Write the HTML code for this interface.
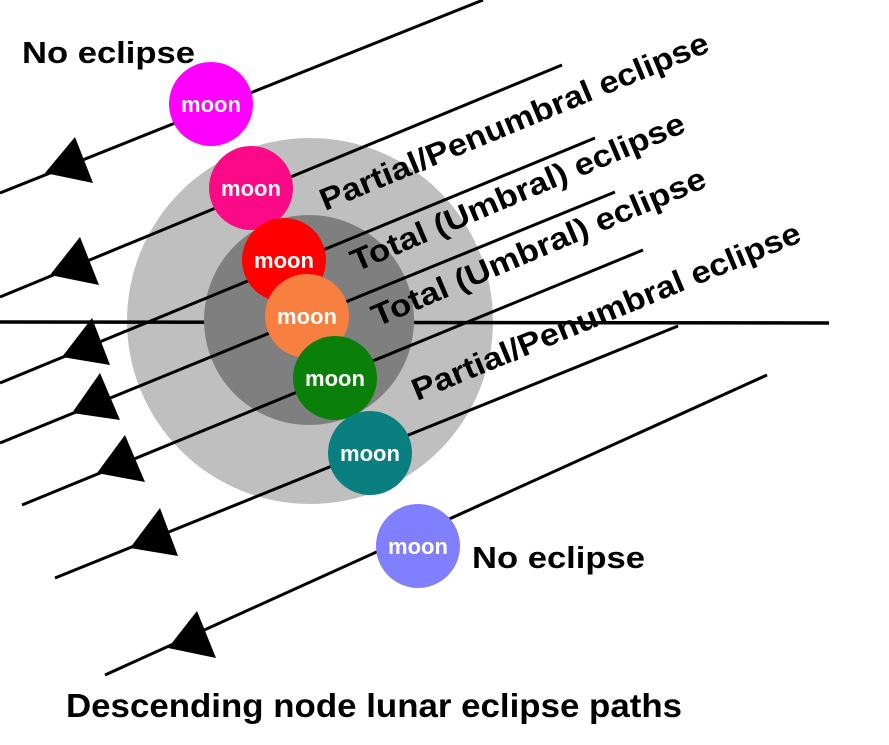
<!DOCTYPE html>
<html><head><meta charset="utf-8"><style>
html,body{margin:0;padding:0;background:#fff;}
svg{display:block;}
text{font-family:"Liberation Sans",Arial,sans-serif;font-weight:bold;}
</style></head><body>
<svg width="889" height="745" viewBox="0 0 889 745" xmlns="http://www.w3.org/2000/svg">
<rect width="889" height="745" fill="#fff"/>
<circle cx="310" cy="321" r="183" fill="#c0bfc0"/>
<line x1="0" y1="322" x2="829" y2="323" stroke="#000" stroke-width="3.5"/>
<circle cx="309" cy="320" r="105" fill="#807f80"/>
<g stroke="#000" stroke-width="3">
<line x1="0" y1="193" x2="483" y2="0"/>
<line x1="0" y1="297" x2="562" y2="65"/>
<line x1="0" y1="383" x2="595" y2="138"/>
<line x1="0" y1="443" x2="615" y2="192"/>
<line x1="22" y1="505" x2="643" y2="250"/>
<line x1="55" y1="578" x2="678" y2="326"/>
<line x1="105" y1="675" x2="767" y2="375"/>
</g>
<g fill="#000">
<polygon points="45,173 75,137 93,183"/>
<polygon points="50,275 80,237 99,285"/>
<polygon points="62,357 92,318 110,365"/>
<polygon points="72,413 100,373 120,420"/>
<polygon points="97,473 125,435 145,482"/>
<polygon points="130,548 160,508 178,556"/>
<polygon points="168,648 197,611 216,658"/>
</g>
<g font-size="22" fill="#fff" text-anchor="middle">
<circle cx="211" cy="104" r="42" fill="#ff00ff"/><text x="211" y="112">moon</text>
<circle cx="251" cy="188" r="42" fill="#fa0a86"/><text x="251" y="196">moon</text>
<circle cx="284" cy="260" r="42" fill="#ff0000"/><text x="284" y="268">moon</text>
<circle cx="307" cy="316" r="42" fill="#f78040"/><text x="307" y="324">moon</text>
<circle cx="335" cy="378" r="42" fill="#0a800a"/><text x="335" y="386">moon</text>
<circle cx="370" cy="453" r="42" fill="#0a7f7f"/><text x="370" y="461">moon</text>
<circle cx="418" cy="546" r="42" fill="#8080ff"/><text x="418" y="554">moon</text>
</g>
<g font-size="31" fill="#000">
<text x="22" y="63" textLength="173" lengthAdjust="spacingAndGlyphs">No eclipse</text>
<text x="472" y="568" textLength="173" lengthAdjust="spacingAndGlyphs">No eclipse</text>
<text x="66" y="717" font-size="33" textLength="616" lengthAdjust="spacingAndGlyphs">Descending node lunar eclipse paths</text>
<text x="0" y="0" transform="translate(325,211) rotate(-22.5)" textLength="418" lengthAdjust="spacingAndGlyphs">Partial/Penumbral eclipse</text>
<text x="0" y="0" transform="translate(356,272) rotate(-23)" textLength="360" lengthAdjust="spacingAndGlyphs">Total (Umbral) eclipse</text>
<text x="0" y="0" transform="translate(377,327) rotate(-23)" textLength="360" lengthAdjust="spacingAndGlyphs">Total (Umbral) eclipse</text>
<text x="0" y="0" transform="translate(417,401) rotate(-22.5)" textLength="418" lengthAdjust="spacingAndGlyphs">Partial/Penumbral eclipse</text>
</g>
</svg>
</body></html>
